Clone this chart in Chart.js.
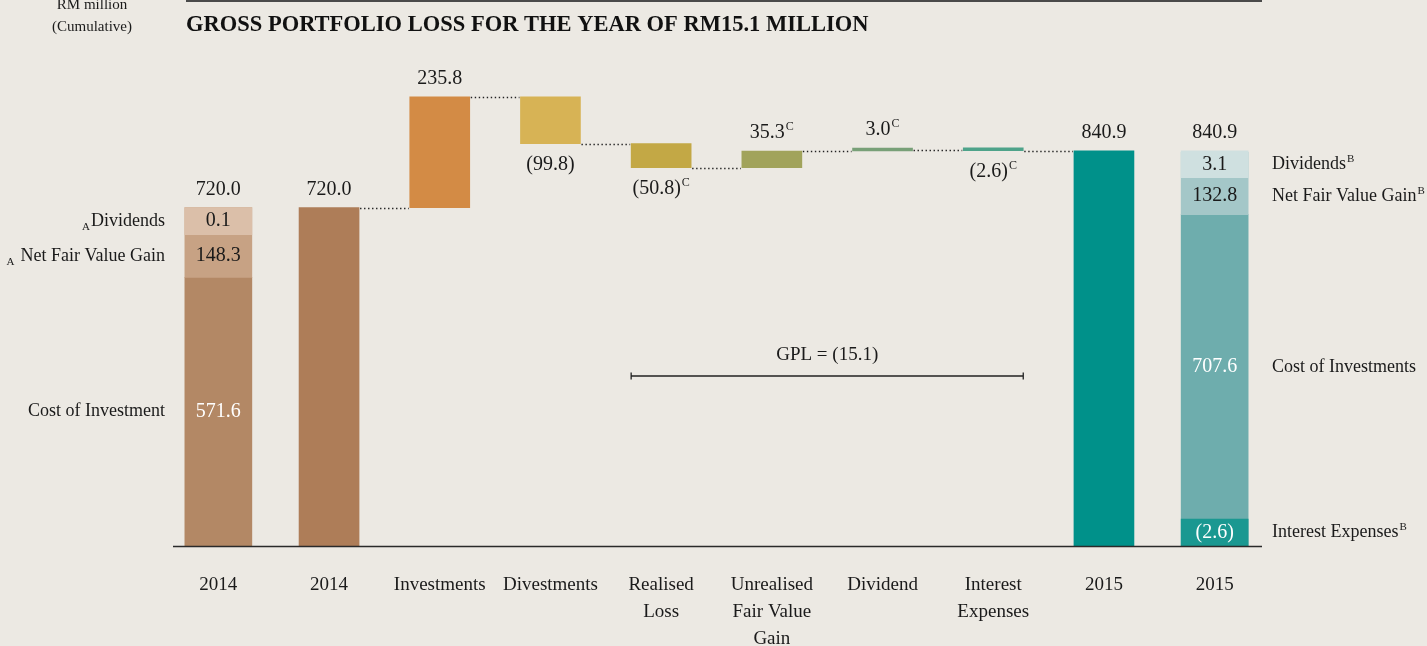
<!DOCTYPE html>
<html>
<head>
<meta charset="utf-8">
<script src="https://cdn.jsdelivr.net/npm/chart.js@4.4.1/dist/chart.umd.min.js"></script>
<style>
  html, body { margin: 0; padding: 0; background: #ECE9E3; }
  #wrap { width: 1427px; height: 646px; position: relative; }
</style>
</head>
<body>
<div id="wrap"><canvas id="gpl_chart"></canvas></div>
<script>
// categories on the x axis
var labels = ['2014', '2014', 'Investments', 'Divestments', ['Realised', 'Loss'],
              ['Unrealised', 'Fair Value', 'Gain'], 'Dividend', ['Interest', 'Expenses'], '2015', '2015'];

// breakdown of the 2014 portfolio (RM million), bottom to top
var comp_2014_names = ['Cost of Investment', 'Net Fair Value Gain', 'Dividends'];
var comp_2014_marks = ['', 'A', 'A'];
var comp_2014 = [571.6, 148.3, 0.1];

// breakdown of the 2015 portfolio, bottom to top
var comp_2015_names = ['Interest Expenses', 'Cost of Investments', 'Net Fair Value Gain', 'Dividends'];
var comp_2015_marks = ['B', '', 'B', 'B'];
var comp_2015 = [-2.6, 707.6, 132.8, 3.1];

// movements through the year
var opening = 720.0;
var movements = [235.8, -99.8, -50.8, 35.3, 3.0, -2.6];
var movement_marks = ['', '', 'C', 'C', 'C', 'C'];
var closing = 840.9;
var gpl = -15.1;

var wf_colors = ['#00000000', '#AE7D58', '#D38B45', '#D7B355', '#C3A845', '#A1A35B', '#78A078', '#4EA38A', '#00918A', '#00000000'];

var SERIF = '"Liberation Serif", "Times New Roman", serif';
var INK = '#1a1a1a';

function fmt(v) {
    var s = Math.abs(v).toFixed(1);
    return v < 0 ? '(' + s + ')' : s;
}

// waterfall bars
var wf_data = [null, [0, opening]];
var levels = [null, opening];
var run = opening;
for (var i = 0; i < movements.length; i++) {
    wf_data.push([run, run + movements[i]]);
    run += movements[i];
    levels.push(run);
}
wf_data.push([0, closing]);
wf_data.push(null);

function only(idx, v) {
    var arr = [];
    for (var k = 0; k < labels.length; k++) arr.push(k === idx ? v : null);
    return arr;
}

// 2014 stack
var a1 = comp_2014[0];
var a2 = a1 + comp_2014[1];
var a3 = a2 + comp_2014[2];
// 2015 stack
var b1 = comp_2015[0];
var b2 = b1 + comp_2015[1];
var b3 = b2 + comp_2015[2];
var b4 = b3 + comp_2015[3];

var datasets = [
    {label: 'wf', data: wf_data, backgroundColor: wf_colors, barThickness: 60, minBarLength: 3, order: 1},
    {label: 'c14_div', data: only(0, a2), base: a3, backgroundColor: '#DBBFA9', barThickness: 67, minBarLength: 27, order: 0},
    {label: 'c14_nfvg', data: only(0, [a1, a2]), backgroundColor: '#C7A284', barThickness: 67, order: 1},
    {label: 'c14_cost', data: only(0, [0, a1]), backgroundColor: '#B38865', barThickness: 67, order: 1},
    {label: 'c15_div', data: only(9, b3), base: b4, backgroundColor: '#CFE0E0', barThickness: 67, minBarLength: 27, order: 0},
    {label: 'c15_nfvg', data: only(9, [b2, b3]), backgroundColor: '#A4C7C8', barThickness: 67, order: 1},
    {label: 'c15_cost', data: only(9, [b1, b2]), backgroundColor: '#6EADAD', barThickness: 67, order: 1},
    {label: 'c15_int', data: only(9, 0), base: b1, backgroundColor: '#1A9891', barThickness: 67, minBarLength: 27, order: 0}
];
datasets.forEach(function(d) { d.grouped = false; d.borderWidth = 0; });

function putText(ctx, txt, x, y, opt) {
    opt = opt || {};
    var size = opt.size || 20;
    var align = opt.align || 'center';
    ctx.save();
    ctx.fillStyle = opt.color || INK;
    ctx.textBaseline = 'middle';
    ctx.textAlign = 'left';
    var small = Math.round(size * 0.6) + 'px ' + SERIF;
    var main = (opt.bold ? 'bold ' : '') + size + 'px ' + SERIF;
    ctx.font = small;
    var gap = opt.preGap || 2;
    var wPre = opt.pre ? ctx.measureText(opt.pre).width + gap : 0;
    var wSup = opt.sup ? ctx.measureText(opt.sup).width + 1 : 0;
    ctx.font = main;
    var w = ctx.measureText(txt).width;
    var total = wPre + w + wSup;
    var x0 = align === 'center' ? x - total / 2 : (align === 'right' ? x - total : x);
    ctx.fillText(txt, x0 + wPre, y);
    ctx.font = small;
    if (opt.pre) ctx.fillText(opt.pre, x0, y + size * 0.32);
    if (opt.sup) ctx.fillText(opt.sup, x0 + wPre + w + 1, y - size * 0.3);
    ctx.restore();
}

var decor = {
    id: 'decor',
    beforeDraw: function(chart) {
        var ctx = chart.ctx;
        ctx.save();
        ctx.fillStyle = '#ECE9E3';
        ctx.fillRect(0, 0, chart.width, chart.height);
        ctx.restore();
    },
    afterDatasetsDraw: function(chart) {
        var ctx = chart.ctx, area = chart.chartArea, ys = chart.scales.y;
        function el(di, idx) { return chart.getDatasetMeta(di).data[idx]; }
        function top(e) { return Math.min(e.y, e.base); }
        function bot(e) { return Math.max(e.y, e.base); }

        // heading
        ctx.save();
        ctx.strokeStyle = '#4a4a4a';
        ctx.lineWidth = 2;
        ctx.beginPath();
        ctx.moveTo(186, 1);
        ctx.lineTo(1262, 1);
        ctx.stroke();
        ctx.restore();
        putText(ctx, 'GROSS PORTFOLIO LOSS FOR THE YEAR OF RM15.1 MILLION', 186, 25, {size: 22.5, bold: true, align: 'left', color: '#111'});
        putText(ctx, 'RM million', 92, 5, {size: 15});
        putText(ctx, '(Cumulative)', 92, 27, {size: 15});

        // dotted connectors
        ctx.save();
        ctx.strokeStyle = '#222';
        ctx.lineWidth = 1.4;
        ctx.setLineDash([1.4, 2.6]);
        for (var i = 1; i <= 7; i++) {
            var e1 = el(0, i), e2 = el(0, i + 1);
            var y = Math.round(ys.getPixelForValue(levels[i])) + 0.5;
            ctx.beginPath();
            ctx.moveTo(e1.x + e1.width / 2 + 1, y);
            ctx.lineTo(e2.x - e2.width / 2 - 1, y);
            ctx.stroke();
        }
        ctx.restore();

        // baseline
        ctx.save();
        ctx.strokeStyle = '#2a2a2a';
        ctx.lineWidth = 1.6;
        ctx.beginPath();
        ctx.moveTo(173, area.bottom + 0.5);
        ctx.lineTo(1262, area.bottom + 0.5);
        ctx.stroke();
        ctx.restore();

        // waterfall labels
        var e = el(0, 1);
        putText(ctx, fmt(opening), e.x, top(e) - 18);
        for (var m = 0; m < movements.length; m++) {
            e = el(0, m + 2);
            if (movements[m] >= 0) putText(ctx, fmt(movements[m]), e.x, top(e) - 18, {sup: movement_marks[m]});
            else putText(ctx, fmt(movements[m]), e.x, bot(e) + 21, {sup: movement_marks[m]});
        }
        e = el(0, 8);
        putText(ctx, fmt(closing), e.x, top(e) - 18);

        // 2014 breakdown
        var dv = el(1, 0), nf = el(2, 0), co = el(3, 0);
        var spans14 = [[top(co), bot(co)], [bot(dv), bot(nf)], [top(dv), bot(dv)]];
        var cols14 = ['#fff', INK, INK];
        for (var s = 0; s < 3; s++) {
            var yc = (spans14[s][0] + spans14[s][1]) / 2;
            putText(ctx, fmt(comp_2014[s]), co.x, yc, {color: cols14[s]});
            putText(ctx, comp_2014_names[s], 165, yc, {size: 18, align: 'right', pre: comp_2014_marks[s], preGap: s === 1 ? 6 : 1});
        }
        putText(ctx, fmt(a3), co.x, top(dv) - 18);

        // 2015 breakdown
        var dv5 = el(4, 9), nf5 = el(5, 9), co5 = el(6, 9), it5 = el(7, 9);
        var spans15 = [[top(it5), bot(it5)], [top(co5), top(it5)], [bot(dv5), bot(nf5)], [top(dv5), bot(dv5)]];
        var cols15 = ['#fff', '#fff', INK, INK];
        for (s = 0; s < 4; s++) {
            var yy = (spans15[s][0] + spans15[s][1]) / 2;
            putText(ctx, fmt(comp_2015[s]), co5.x, yy, {color: cols15[s]});
            putText(ctx, comp_2015_names[s], 1272, yy, {size: 18, align: 'left', sup: comp_2015_marks[s]});
        }
        putText(ctx, fmt(b4), co5.x, top(dv5) - 18);

        // GPL bracket
        var r1 = el(0, 4), r2 = el(0, 7);
        var xl = r1.x - r1.width / 2, xr = r2.x + r2.width / 2;
        var yb = area.bottom - 170;
        ctx.save();
        ctx.strokeStyle = '#222';
        ctx.lineWidth = 1.3;
        ctx.beginPath();
        ctx.moveTo(xl, yb); ctx.lineTo(xr, yb);
        ctx.moveTo(xl, yb - 3.5); ctx.lineTo(xl, yb + 3.5);
        ctx.moveTo(xr, yb - 3.5); ctx.lineTo(xr, yb + 3.5);
        ctx.stroke();
        ctx.restore();
        putText(ctx, 'GPL = ' + fmt(gpl), (xl + xr) / 2, yb - 21, {size: 19});
    }
};

new Chart(document.getElementById('gpl_chart'), {
    type: 'bar',
    data: {labels: labels, datasets: datasets},
    plugins: [decor],
    options: {
        responsive: true,
        maintainAspectRatio: false,
        animation: false,
        layout: {padding: {left: 163, right: 157, top: 76, bottom: 0}},
        plugins: {legend: {display: false}, tooltip: {enabled: false}},
        scales: {
            x: {
                grid: {display: false, drawTicks: false},
                border: {display: false},
                ticks: {
                    font: {family: SERIF, size: 19, lineHeight: 1.42},
                    color: INK,
                    padding: 26,
                    autoSkip: false,
                    maxRotation: 0
                },
                afterFit: function(scale) { scale.height = 100; }
            },
            y: {display: false, min: 0, max: 1000}
        }
    }
});
</script>
</body>
</html>
